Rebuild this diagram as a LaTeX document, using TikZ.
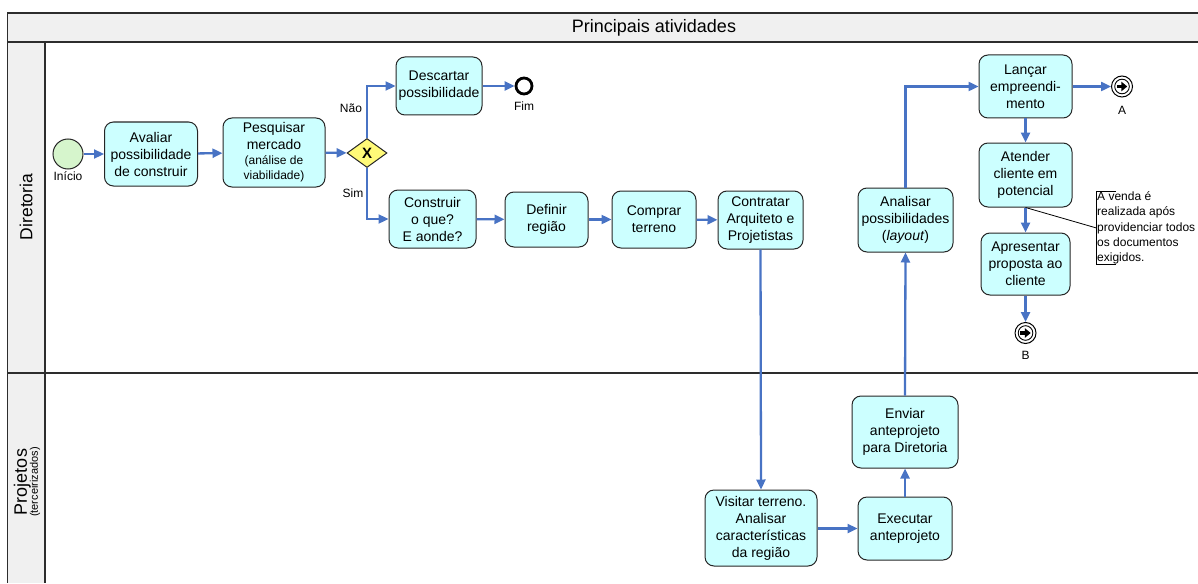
\documentclass[tikz,border=0pt]{standalone}
\usepackage{fontspec}
\setmainfont{Liberation Sans}
\usetikzlibrary{shapes.geometric,arrows.meta}
\definecolor{taskfill}{RGB}{204,255,255}
\definecolor{flowblue}{RGB}{72,115,196}
\definecolor{startfill}{RGB}{214,245,204}
\definecolor{gwfill}{RGB}{255,250,120}
\definecolor{lanegray}{RGB}{240,240,240}
\definecolor{framecol}{RGB}{45,45,45}

\begin{document}
\begin{tikzpicture}[x=1pt,y=-1pt,
  task/.style={draw=black!85, line width=1pt, fill=taskfill, rounded corners=9pt,
    align=center, font=\fontsize{14}{17}\selectfont, inner sep=1pt},
  flow/.style={draw=flowblue, line width=2.3pt, -{Triangle[length=10pt,width=9pt]}},
  lbl/.style={font=\fontsize{12}{14}\selectfont, inner sep=1pt},
  framepen/.style={draw=framecol, line width=1.5pt},
  endmsg/.style={circle, draw, line width=1pt, fill=white, minimum size=21pt, inner sep=0pt,
    path picture={
      \draw[black, line width=0.9pt] (path picture bounding box.center) circle (7.3pt);
      \fill[black] (path picture bounding box.center) ++(-5.2,-1.9) rectangle ++(5,3.8);
      \fill[black] ([xshift=-0.6pt]path picture bounding box.center) ++(0,-4.8) -- ++(5.8,4.8) -- ++(-5.8,4.8) -- cycle;
    }},
]
\useasboundingbox (0,0) rectangle (1198,583);

% pool header and lane label column
\fill[lanegray] (7.5,13) rectangle (1198,42);
\fill[lanegray] (7.5,42) rectangle (45,583);
\draw[framepen] (1198,13) -- (7.5,13) -- (7.5,583);
\draw[framepen] (7.5,42) -- (1198,42);
\draw[framepen] (45,42) -- (45,583);
\draw[framepen] (7.5,373) -- (1198,373);

\node[font=\fontsize{18}{20}\selectfont] (titulo) at (654,27.5) {Principais atividades};
\node[rotate=90, font=\fontsize{17.5}{20}\selectfont] (laneA) at (26,207) {Diretoria};
\node[rotate=90, align=center] (laneB) at (27,482)
  {\fontsize{18}{18}\selectfont Projetos\\[-1pt]\fontsize{11}{12}\selectfont (terceirizados)};

% Diretoria lane
\node[circle, draw=black!85, line width=1pt, fill=startfill, minimum size=30pt, inner sep=0pt] (inicio) at (68,154) {};
\node[lbl] (inicioL) at (68,176) {Início};

\node[task, minimum width=93pt, minimum height=64pt] (avaliar) at (151,154)
  {Avaliar\\possibilidade\\de construir};
\node[task, minimum width=102pt, minimum height=69pt] (pesquisar) at (274,152.5)
  {Pesquisar\\mercado\\[-2pt]{\fontsize{12}{14}\selectfont (análise de}\\[-2pt]{\fontsize{12}{14}\selectfont viabilidade)}};

\node[diamond, draw=black!85, line width=1pt, fill=gwfill, minimum width=40pt, minimum height=29pt,
  inner sep=0pt, font=\fontsize{15}{15}\selectfont\bfseries] (gw) at (367,153) {X};

\node[task, minimum width=86pt, minimum height=58pt] (descartar) at (439,86)
  {Descartar\\possibilidade};
\node[circle, draw=black, line width=2.8pt, fill=white, minimum size=16pt, inner sep=0pt] (fim) at (524,86) {};
\node[lbl] (fimL) at (524,106) {Fim};

\node[lbl] (naoL) at (351,108) {Não};
\node[lbl] (simL) at (353,193) {Sim};

\node[task, minimum width=87pt, minimum height=58pt] (construir) at (432.5,219)
  {Construir\\o que?\\E aonde?};
\node[task, minimum width=83pt, minimum height=55pt] (definir) at (546.5,219.5)
  {Definir\\região};
\node[task, minimum width=84pt, minimum height=57pt] (comprar) at (654,219.5)
  {Comprar\\terreno};
\node[task, minimum width=85pt, minimum height=58pt] (contratar) at (760.5,220)
  {Contratar\\Arquiteto e\\Projetistas};

\node[task, minimum width=95pt, minimum height=64pt] (analisar) at (905.5,220)
  {Analisar\\possibilidades\\(\textit{layout})};

\node[task, minimum width=93pt, minimum height=63pt] (lancar) at (1025.5,86.5)
  {Lançar\\empreendi-\\mento};
\node[endmsg] (fimA) at (1122,86.5) {};
\node[lbl] (fimAL) at (1122,110) {A};

\node[task, minimum width=93pt, minimum height=64pt] (atender) at (1025.5,175)
  {Atender\\cliente em\\potencial};
\node[task, minimum width=89pt, minimum height=62pt] (apresentar) at (1025.5,264)
  {Apresentar\\proposta ao\\cliente};
\node[endmsg] (fimB) at (1025.5,333) {};
\node[lbl] (fimBL) at (1025.5,355) {B};

% text annotation attached to "Atender cliente em potencial"
\node[anchor=west, align=left, font=\fontsize{12}{15.2}\selectfont, inner sep=0.5pt] (nota) at (1096.5,228)
  {A venda é\\realizada após\\providenciar todos\\os documentos\\exigidos.};
\draw[line width=0.8pt] ([xshift=19pt]nota.north west) -- (nota.north west) -- (nota.south west) -- ([xshift=19pt]nota.south west);
\draw[line width=0.8pt] (atender.south) -- (nota.west);

% Projetos lane
\node[task, minimum width=112pt, minimum height=76pt] (visitar) at (761,528)
  {Visitar terreno.\\Analisar\\características\\da região};
\node[task, minimum width=94pt, minimum height=63pt] (executar) at (905,528.5)
  {Executar\\anteprojeto};
\node[task, minimum width=106pt, minimum height=72pt] (enviar) at (905,432)
  {Enviar\\anteprojeto\\para Diretoria};

% sequence flows
\draw[flow] (inicio) -- (avaliar);
\draw[flow] (avaliar) -- (pesquisar);
\draw[flow] (pesquisar) -- (gw);
\draw[flow] (gw.north) |- (descartar.west);
\draw[flow] (gw.south) |- (construir.west);
\draw[flow] (descartar) -- (fim);
\draw[flow] (construir) -- (definir);
\draw[flow] (definir) -- (comprar);
\draw[flow] (comprar) -- (contratar);
\draw[flow] (contratar.south) -- (visitar.north);
\draw[flow] (visitar.east |- executar) -- (executar.west);
\draw[flow] (executar.north) -- (enviar.south);
\draw[flow] (enviar.north) -- (analisar.south);
\draw[flow] (analisar.north) |- (lancar.west);
\draw[flow] (lancar) -- (fimA);
\draw[flow] (lancar) -- (atender);
\draw[flow] (atender) -- (apresentar);
\draw[flow] (apresentar) -- (fimB);
\end{tikzpicture}
\end{document}
